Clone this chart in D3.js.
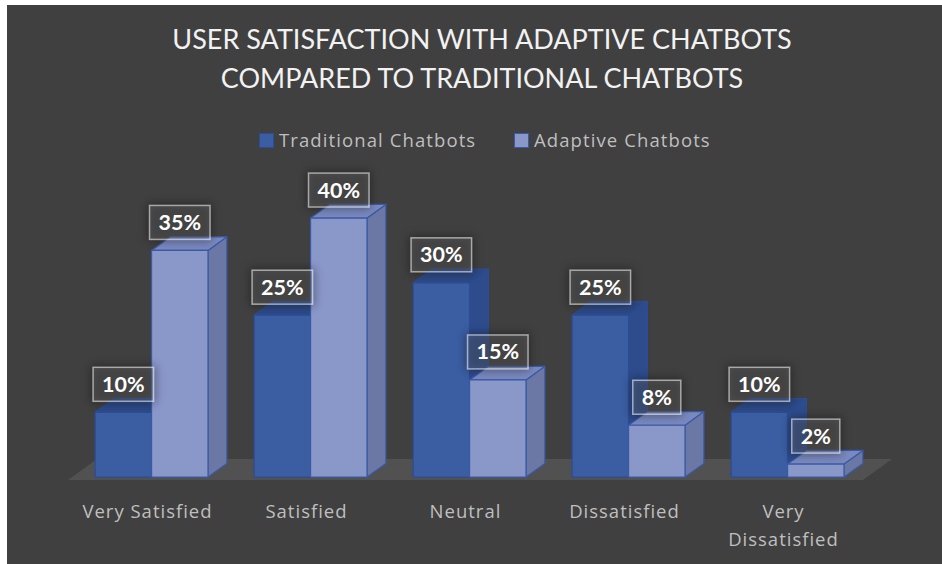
<!DOCTYPE html>
<html>
<head>
<meta charset="utf-8">
<script src="https://cdn.jsdelivr.net/npm/d3@7"></script>
<style>
  html, body { margin: 0; padding: 0; background: #ffffff; }
  svg { display: block; }
</style>
</head>
<body>
<svg id="chart"></svg>
<script>
const categories = ["Very Satisfied", "Satisfied", "Neutral", "Dissatisfied", "Very Dissatisfied"];
const tickLabels = [["Very Satisfied"], ["Satisfied"], ["Neutral"], ["Dissatisfied"], ["Very", "Dissatisfied"]];
const seriesNames = ["Traditional Chatbots", "Adaptive Chatbots"];
const traditional = [10, 25, 30, 25, 10];
const adaptive = [35, 40, 15, 8, 2];
const titleLines = ["USER SATISFACTION WITH ADAPTIVE CHATBOTS", "COMPARED TO TRADITIONAL CHATBOTS"];

const W = 942, H = 564;
const svg = d3.select("#chart").attr("width", W).attr("height", H);

const defs = svg.append("defs");
defs.append("filter").attr("id", "glow")
    .attr("x", "-50%").attr("y", "-50%").attr("width", "200%").attr("height", "200%")
    .append("feGaussianBlur").attr("stdDeviation", 5);

// chart area (white strip left and top)
svg.append("rect").attr("x", 7).attr("y", 5).attr("width", W - 7).attr("height", H - 5).attr("fill", "#404040");

const titleFont = "Lato, 'Open Sans', sans-serif";
const font = "'Open Sans', 'Noto Sans', sans-serif";

// title
svg.append("g").selectAll("text").data(titleLines).enter().append("text")
    .attr("x", 482)
    .attr("y", (d, i) => 49 + i * 39)
    .attr("text-anchor", "middle")
    .style("font-family", titleFont)
    .style("font-size", "27px")
    .style("fill", "#f2f2f2")
    .text(d => d);

// colors
const colors = {
    "Traditional Chatbots": { front: "#3b5ea2", top: "#2d4a86", side: "#2e4c8c", stroke: "#2c4c96" },
    "Adaptive Chatbots": { front: "#8a97c9", top: "#7a89bf", side: "#6b78a6", stroke: "#3a5aa6" }
};

// legend
const legendItems = [
    { name: seriesNames[0], x: 259 },
    { name: seriesNames[1], x: 514 }
];
const legend = svg.append("g");
legendItems.forEach(it => {
    legend.append("rect").attr("x", it.x + 0.5).attr("y", 133.5).attr("width", 14).attr("height", 14)
        .attr("fill", colors[it.name].front).attr("stroke", colors[it.name].stroke).attr("stroke-width", 1);
    legend.append("text").attr("x", it.x + 20).attr("y", 147)
        .style("font-family", font).style("font-size", "18.5px").style("letter-spacing", "1.1px")
        .style("fill", "#bfbfbf")
        .text(it.name);
});

// geometry
const floorLeft = 68, floorRight = 863, floorY = 480;
const depth = [29, -21];
const t0 = 0.14, t1 = 0.79;

const x0 = d3.scaleBand().domain(categories).range([floorLeft, floorRight]).paddingInner(0.29).paddingOuter(0.145);
const x1 = d3.scaleBand().domain(seriesNames).range([0, x0.bandwidth()]);
const y = d3.scaleLinear().domain([0, 40]).range([0, 259]);

const plot = svg.append("g");

// floor
const fl = [
    [floorLeft, floorY],
    [floorRight, floorY],
    [floorRight + depth[0], floorY + depth[1]],
    [floorLeft + depth[0], floorY + depth[1]]
];
plot.append("polygon").attr("points", fl.map(p => p.join(",")).join(" ")).attr("fill", "#515151");

const bars = [];
categories.forEach((c, i) => {
    [traditional[i], adaptive[i]].forEach((v, j) => {
        bars.push({ cat: c, series: seriesNames[j], value: v });
    });
});

const fx = t0 * depth[0], fy = t0 * depth[1];
const bdx = (t1 - t0) * depth[0], bdy = (t1 - t0) * depth[1];

bars.forEach(d => {
    const xl = x0(d.cat) + x1(d.series) + fx;
    const xr = xl + x1.bandwidth();
    const yb = floorY + fy;
    const yt = yb - y(d.value);
    const col = colors[d.series];
    const g = plot.append("g").attr("stroke", col.stroke).attr("stroke-width", 1.2).attr("stroke-linejoin", "round");
    const poly = pts => g.append("polygon").attr("points", pts.map(p => p.join(",")).join(" "));
    // side
    poly([[xr, yb], [xr + bdx, yb + bdy], [xr + bdx, yt + bdy], [xr, yt]]).attr("fill", col.side);
    // top
    poly([[xl, yt], [xr, yt], [xr + bdx, yt + bdy], [xl + bdx, yt + bdy]]).attr("fill", col.top);
    // front
    poly([[xl, yb], [xr, yb], [xr, yt], [xl, yt]]).attr("fill", col.front);
    d.cx = (xl + xr) / 2;
    d.ty = yt;
});

// data labels
const labels = svg.append("g");
bars.forEach(d => {
    const txt = d.value + "%";
    const t = labels.append("text")
        .attr("x", d.cx).attr("y", d.ty - 28 + 7.5)
        .attr("text-anchor", "middle")
        .style("font-family", titleFont).style("font-size", "21.5px").style("font-weight", "bold")
        .style("fill", "#ffffff")
        .text(txt);
    const w = t.node().getComputedTextLength() + 18;
    const bh = 34;
    labels.insert("rect", () => t.node())
        .attr("x", d.cx - w / 2 - 2).attr("y", d.ty - 28 - bh / 2 - 2)
        .attr("width", w + 4).attr("height", bh + 4)
        .attr("fill", "#000").attr("opacity", 0.35).attr("filter", "url(#glow)");
    labels.insert("rect", () => t.node())
        .attr("x", d.cx - w / 2).attr("y", d.ty - 28 - bh / 2)
        .attr("width", w).attr("height", bh)
        .attr("fill", "rgba(255,255,255,0.12)")
        .attr("stroke", "rgba(255,255,255,0.55)").attr("stroke-width", 1.5);
});

// category labels
const axis = svg.append("g");
categories.forEach((c, i) => {
    const t = axis.append("text")
        .attr("x", x0(c) + x0.bandwidth() / 2)
        .attr("y", 518)
        .attr("text-anchor", "middle")
        .style("font-family", font).style("font-size", "18.5px").style("letter-spacing", "1px")
        .style("fill", "#bfbfbf");
    tickLabels[i].forEach((line, k) => {
        t.append("tspan").attr("x", x0(c) + x0.bandwidth() / 2).attr("dy", k === 0 ? 0 : 28).text(line);
    });
});
</script>
</body>
</html>
